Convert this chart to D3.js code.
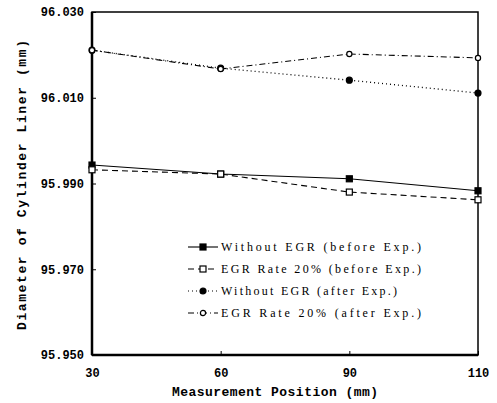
<!DOCTYPE html>
<html>
<head>
<meta charset="utf-8">
<script src="https://cdn.jsdelivr.net/npm/d3@7"></script>
<style>
body { margin: 0; background: #fff; }
</style>
</head>
<body>
<div id="main"></div>
<script>
// measurement positions (mm) and tick labels
var positions = ["30", "60", "90", "110"];
var yTicks = [95.950, 95.970, 95.990, 96.010, 96.030];

// diameters
var woBefore = [95.9943, 95.9922, 95.9911, 95.9883];
var egrBefore = [95.9932, 95.9922, 95.9880, 95.9862];
var woAfter = [96.0211, 96.0169, 96.0141, 96.0111];
var egrAfter = [96.0211, 96.0167, 96.0202, 96.0193];

var seriesNames = ["Without EGR (before Exp.)", "EGR Rate 20% (before Exp.)",
    "Without EGR (after Exp.)", "EGR Rate 20% (after Exp.)"];

var series = [
    {name: seriesNames[0], values: woBefore, dash: null, marker: "square", fill: true},
    {name: seriesNames[1], values: egrBefore, dash: "6,4", marker: "square", fill: false},
    {name: seriesNames[2], values: woAfter, dash: "1,3", marker: "circle", fill: true},
    {name: seriesNames[3], values: egrAfter, dash: "6,3,1,3", marker: "circle", fill: false}
];

function createVisualization() {

    var w = 497, h = 403;
    var pLeft = 92, pRight = 478, pTop = 12, pBottom = 355;

    var svg = d3.select("#main")
        .append("svg")
        .attr("width", w)
        .attr("height", h);

    var x = d3.scalePoint()
        .domain(positions)
        .range([pLeft, pRight]);

    var y = d3.scaleLinear()
        .domain([95.950, 96.030])
        .range([pBottom, pTop]);

    // frame
    svg.append("rect")
        .attr("x", pLeft).attr("y", pTop)
        .attr("width", pRight - pLeft).attr("height", pBottom - pTop)
        .attr("fill", "none").attr("stroke", "#000").attr("stroke-width", 1.5);
    svg.append("line").attr("x1", pLeft).attr("x2", pLeft).attr("y1", pTop).attr("y2", pBottom)
        .attr("stroke", "#000").attr("stroke-width", 2.5);
    svg.append("line").attr("x1", pLeft).attr("x2", pRight).attr("y1", pBottom).attr("y2", pBottom)
        .attr("stroke", "#000").attr("stroke-width", 2.5);

    // y axis
    var yAxis = svg.append("g")
        .attr("transform", "translate(" + pLeft + ",0)")
        .call(d3.axisLeft(y).tickValues(yTicks).tickFormat(d3.format(".3f")).tickSizeInner(-4).tickSizeOuter(0));
    yAxis.select(".domain").remove();
    yAxis.selectAll("text")
        .attr("x", -8)
        .style("font-family", "Liberation Mono, DejaVu Sans Mono, monospace")
        .style("font-weight", "bold")
        .style("font-size", "12px")
        .attr("fill", "#000");

    // x axis
    var xAxis = svg.append("g")
        .attr("transform", "translate(0," + pBottom + ")")
        .call(d3.axisBottom(x).tickSizeInner(-4).tickSizeOuter(0));
    xAxis.select(".domain").remove();
    xAxis.selectAll("text")
        .attr("y", 13)
        .style("font-family", "Liberation Mono, DejaVu Sans Mono, monospace")
        .style("font-weight", "bold")
        .style("font-size", "12px")
        .attr("fill", "#000");

    // axis titles
    svg.append("text")
        .attr("x", 275).attr("y", 396)
        .attr("text-anchor", "middle")
        .attr("textLength", 206)
        .style("font-family", "Liberation Mono, DejaVu Sans Mono, monospace")
        .style("font-weight", "bold")
        .style("font-size", "13px")
        .text("Measurement Position (mm)");

    svg.append("text")
        .attr("transform", "translate(26,185) rotate(-90)")
        .attr("text-anchor", "middle")
        .attr("textLength", 290)
        .style("font-family", "Liberation Mono, DejaVu Sans Mono, monospace")
        .style("font-weight", "bold")
        .style("font-size", "13px")
        .text("Diameter of Cylinder Liner (mm)");

    // lines
    var line = d3.line()
        .x(function(d, i) { return x(positions[i]); })
        .y(function(d) { return y(d); });

    function drawMarker(g, s, cx, cy) {
        if (s.marker == "square") {
            g.append("rect")
                .attr("x", cx - 3).attr("y", cy - 3)
                .attr("width", 6).attr("height", 6)
                .attr("fill", s.fill ? "#000" : "#fff")
                .attr("stroke", "#000").attr("stroke-width", 1.2);
        } else {
            g.append("circle")
                .attr("cx", cx).attr("cy", cy)
                .attr("r", s.fill ? 3 : 2.6)
                .attr("fill", s.fill ? "#000" : "#fff")
                .attr("stroke", "#000").attr("stroke-width", 1.2);
        }
    }

    series.forEach(function(s) {
        svg.append("path")
            .datum(s.values)
            .attr("d", line)
            .attr("fill", "none")
            .attr("stroke", "#000")
            .attr("stroke-width", s.dash == "1,3" ? 1.3 : 1.1)
            .attr("stroke-dasharray", s.dash);
    });
    series.forEach(function(s) {
        var g = svg.append("g");
        s.values.forEach(function(v, i) {
            drawMarker(g, s, x(positions[i]), y(v));
        });
    });

    // legend
    var legendY = [247, 269, 291, 313];
    series.forEach(function(s, i) {
        var g = svg.append("g").attr("transform", "translate(188," + legendY[i] + ")");
        g.append("line")
            .attr("x1", 0).attr("x2", 30).attr("y1", 0).attr("y2", 0)
            .attr("stroke", "#000").attr("stroke-width", 1.1)
            .attr("stroke-dasharray", s.dash);
        drawMarker(g, s, 15, 0);
        g.append("text")
            .attr("x", 33).attr("y", 4)
            .style("font-family", "Liberation Serif, DejaVu Serif, serif")
            .style("font-size", "12px")
            .attr("textLength", i == 2 ? 176 : 200)
            .text(s.name);
    });
}

createVisualization();
</script>
</body>
</html>
